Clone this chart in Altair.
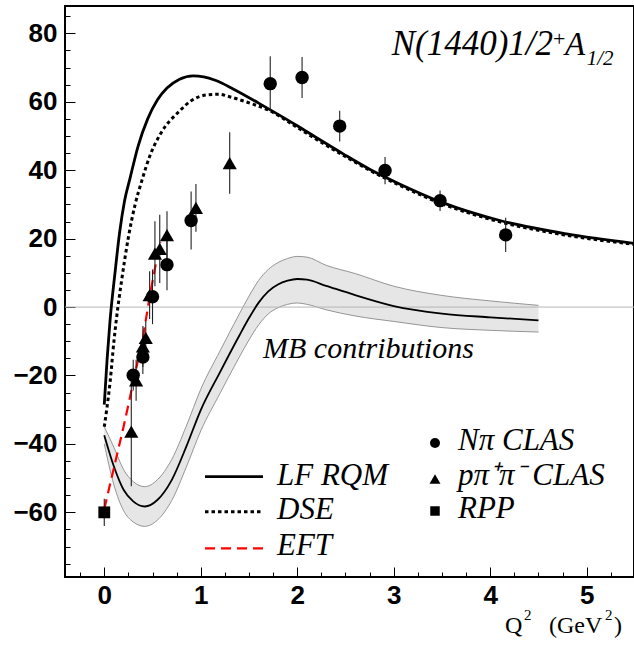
import altair as alt
import pandas as pd

# ---------------- data ----------------
# LF RQM (solid)
lf_x = [0.0, 0.03, 0.06, 0.11, 0.16, 0.21, 0.27, 0.35, 0.45, 0.55, 0.65, 0.78, 0.92, 1.03, 1.15,
        1.34, 1.68, 2.0, 2.2, 2.48, 2.75, 3.06, 3.5, 4.1, 4.79, 5.5]
lf_y = [-28.5, -15.0, -3.9, 9.7, 22.0, 31.0, 38.0, 47.0, 55.0, 60.5, 64.0, 66.6, 67.6, 67.3, 66.3,
        63.7, 58.3, 53.0, 49.5, 44.7, 40.3, 36.0, 30.6, 25.3, 21.4, 18.6]
# DSE (dotted)
dse_x = [0.0, 0.025, 0.06, 0.1, 0.128, 0.18, 0.25, 0.32, 0.39, 0.47, 0.58, 0.78, 0.9, 1.06, 1.2,
         1.27, 1.54, 1.7, 2.0, 2.2, 2.48, 2.75, 3.06, 3.5, 4.1, 4.79, 5.5]
dse_y = [-35.0, -30.0, -22.0, -10.0, -3.0, 7.8, 20.4, 30.0, 37.0, 44.0, 50.5, 57.3, 60.3, 62.0, 62.2,
         61.7, 59.3, 57.6, 52.5, 49.0, 44.3, 40.0, 35.6, 30.2, 24.9, 21.0, 18.3]
# EFT (red dashed)
eft_x = [0.0, 0.1, 0.2, 0.3, 0.4, 0.47, 0.53, 0.58]
eft_y = [-59.0, -47.0, -35.0, -22.0, -9.0, 3.0, 12.0, 19.0]
# MB contributions: central line and band
mb_x = [0.0, 0.1, 0.2, 0.3, 0.42, 0.55, 0.7, 0.85, 1.0, 1.2, 1.4, 1.5, 1.6, 1.7, 1.8, 1.9, 2.0,
        2.1, 2.3, 2.6, 3.0, 3.5, 4.0, 4.5]
mb_c = [-37.5, -46.6, -53.4, -56.8, -58.3, -56.4, -50.5, -40.8, -30.1, -19.0, -8.3, -3.2, 1.3,
        4.6, 6.6, 7.7, 8.2, 8.0, 6.2, 3.5, 0.3, -1.9, -3.0, -3.9]
mb_hi = [-35.0, -41.0, -47.5, -51.0, -52.5, -50.5, -44.5, -34.8, -24.0, -12.8, -2.0, 3.2, 7.8,
         11.0, 13.0, 14.2, 14.8, 14.6, 12.2, 9.8, 6.1, 3.4, 1.8, 0.5]
mb_lo = [-40.0, -52.0, -59.5, -62.8, -64.1, -62.3, -56.5, -46.8, -36.2, -25.2, -14.6, -9.6, -5.2,
         -2.0, -0.2, 0.8, 1.2, 0.8, -0.8, -2.6, -4.2, -6.0, -6.8, -7.3]
# N pi CLAS (circles)
npi_x = [0.30, 0.40, 0.50, 0.65, 0.90, 1.72, 2.05, 2.44, 2.91, 3.48, 4.16]
npi_y = [-19.9, -14.6, 3.0, 12.4, 25.3, 65.3, 67.1, 52.9, 39.9, 31.1, 21.1]
npi_e = [4.5, 5.0, 8.0, 7.5, 8.5, 8.0, 6.0, 4.5, 4.0, 3.0, 5.0]
# p pi+ pi- CLAS (triangles)
ppp_x = [0.28, 0.33, 0.40, 0.43, 0.47, 0.525, 0.575, 0.65, 0.95, 1.30]
ppp_y = [-36.4, -21.4, -11.5, -9.0, 3.5, 15.6, 17.0, 21.0, 29.0, 42.1]
ppp_e = [16.0, 6.0, 6.0, 5.0, 7.0, 9.5, 10.0, 7.0, 7.0, 9.0]
# RPP (square)
rpp_x = [0.0]
rpp_y = [-60.0]
rpp_e = [4.0]

x_major = [0, 1, 2, 3, 4, 5]
x_minor = [-0.25, 0.25, 0.5, 0.75, 1.25, 1.5, 1.75, 2.25, 2.5, 2.75, 3.25, 3.5, 3.75,
           4.25, 4.5, 4.75, 5.25]
y_major = [-60, -40, -20, 0, 20, 40, 60, 80]
y_minor = [-75, -70, -65, -55, -50, -45, -35, -30, -25, -15, -10, -5, 5, 10, 15, 25, 30, 35,
           45, 50, 55, 65, 70, 75, 85]

XDOM = [-0.407, 5.49]
YDOM = [-78.9, 88.0]
W, H = 569, 571

SERIF = "Liberation Serif"
SANS = "Liberation Sans"

xs = alt.Scale(domain=XDOM, nice=False, zero=False)
ys = alt.Scale(domain=YDOM, nice=False, zero=False)


def X(field, axis=None):
    return alt.X(field, type="quantitative", scale=xs, axis=axis)


def Y(field, axis=None):
    return alt.Y(field, type="quantitative", scale=ys, axis=axis)


lf_df = pd.DataFrame({"x": lf_x, "y": lf_y})
dse_df = pd.DataFrame({"x": dse_x, "y": dse_y})
eft_df = pd.DataFrame({"x": eft_x, "y": eft_y})
mb_df = pd.DataFrame({"x": mb_x, "c": mb_c, "hi": mb_hi, "lo": mb_lo})


def pts(xv, yv, ev):
    d = pd.DataFrame({"x": xv, "y": yv, "e": ev})
    d["y1"] = d["y"] - d["e"]
    d["y2"] = d["y"] + d["e"]
    return d


npi_df = pts(npi_x, npi_y, npi_e)
ppp_df = pts(ppp_x, ppp_y, ppp_e)
rpp_df = pts(rpp_x, rpp_y, rpp_e)

label_style = dict(labelFont=SANS, labelFontWeight="bold", labelFontSize=26, labelColor="black",
                   domain=False, grid=False, title=None, tickColor="black", tickWidth=1)

ax_x_major = alt.Axis(orient="bottom", values=x_major, tickSize=10, offset=-10, labelPadding=5,
                      format="d", **label_style)
ax_x_minor = alt.Axis(orient="bottom", values=x_minor, tickSize=5, offset=-5, labels=False,
                      domain=False, grid=False, title=None, tickColor="black", tickWidth=1)
ax_y_major = alt.Axis(orient="left", values=y_major, tickSize=10, offset=-10, labelPadding=8,
                      format="d", **label_style)
ax_y_minor = alt.Axis(orient="left", values=y_minor, tickSize=5, offset=-5, labels=False,
                      domain=False, grid=False, title=None, tickColor="black", tickWidth=1)

# band
band = alt.Chart(mb_df).mark_area(color="#e6e6e6", clip=True, interpolate="monotone").encode(
    x=X("x", ax_x_major), y=Y("lo", ax_y_major), y2="hi")
band_hi = alt.Chart(mb_df).mark_line(color="#8a8a8a", strokeWidth=0.9, clip=True,
                                     interpolate="monotone").encode(
    x=X("x", ax_x_minor), y=Y("hi", ax_y_minor))
band_lo = alt.Chart(mb_df).mark_line(color="#8a8a8a", strokeWidth=0.9, clip=True,
                                     interpolate="monotone").encode(x=X("x"), y=Y("lo"))
zero = alt.Chart(pd.DataFrame({"y": [0]})).mark_rule(color="#b5b5b5", strokeWidth=1).encode(
    y=Y("y"))
band_c = alt.Chart(mb_df).mark_line(color="black", strokeWidth=1.8, clip=True,
                                    interpolate="monotone").encode(x=X("x"), y=Y("c"))

eft = alt.Chart(eft_df).mark_line(color="#ff0000", strokeWidth=2.2, strokeDash=[10, 6],
                                  clip=True).encode(x=X("x"), y=Y("y"))
lf = alt.Chart(lf_df).mark_line(color="black", strokeWidth=2.8, clip=True,
                                interpolate="monotone").encode(x=X("x"), y=Y("y"))
dse = alt.Chart(dse_df).mark_line(color="black", strokeWidth=3, strokeDash=[3.5, 3],
                                  clip=True, interpolate="monotone").encode(x=X("x"), y=Y("y"))


def errs(df):
    return alt.Chart(df).mark_rule(color="#222222", strokeWidth=1.1).encode(
        x=X("x"), y=Y("y1"), y2="y2")


def marks(df, shape, size):
    return alt.Chart(df).mark_point(shape=shape, filled=True, size=size, color="black",
                                    opacity=1, strokeWidth=0).encode(x=X("x"), y=Y("y"))


def txt(s, x, y, size, style="italic", font=SERIF, align="left", weight="normal"):
    return alt.Chart(pd.DataFrame({"t": [s]})).mark_text(
        align=align, baseline="alphabetic", font=font, fontSize=size, fontStyle=style,
        fontWeight=weight, color="black").encode(text="t:N", x=alt.value(x), y=alt.value(y))


def legline(y, color, width, dash=None):
    kw = dict(color=color, strokeWidth=width)
    if dash:
        kw["strokeDash"] = dash
    return alt.Chart(pd.DataFrame({"a": [0]})).mark_rule(**kw).encode(
        x=alt.value(140), x2=alt.value(198), y=alt.value(y))


def legsym(shape, x, y, size):
    return alt.Chart(pd.DataFrame({"a": [0]})).mark_point(
        shape=shape, filled=True, size=size, color="black", opacity=1, strokeWidth=0).encode(
        x=alt.value(x), y=alt.value(y))


layers = [
    band, band_hi, band_lo, zero, band_c, eft, lf, dse,
    errs(npi_df), errs(ppp_df), errs(rpp_df),
    marks(npi_df, "circle", 180), marks(ppp_df, "triangle-up", 200), marks(rpp_df, "square", 140),
    # title
    txt("N(1440)1/2", 326.7, 49, 35),
    txt("+", 488, 40, 22, style="normal"),
    txt("A", 500, 49, 33),
    txt("1/2", 521.7, 59, 21),
    txt("MB contributions", 198, 352, 30),
    # legend: lines
    legline(470.7, "black", 2.8),
    legline(505.7, "black", 3, [3.5, 3]),
    legline(542.3, "#ff0000", 2.2, [10, 6]),
    txt("LF RQM", 212, 479, 31),
    txt("DSE", 212, 513, 31),
    txt("EFT", 212, 549, 31),
    # legend: symbols
    legsym("circle", 370, 437, 100),
    legsym("triangle-up", 370, 473, 120),
    legsym("square", 370, 505, 90),
    txt("N\u03c0 CLAS", 393, 444, 31),
    txt("p\u03c0\u207a\u03c0\u207b CLAS", 393, 479, 31),
    txt("RPP", 393, 512, 31),
    # x-axis title
    txt("Q", 440, 627, 24, style="normal"),
    txt("2", 459, 614, 15, style="normal"),
    txt("(GeV", 484, 627, 24, style="normal"),
    txt("2", 540, 614, 15, style="normal"),
    txt(")", 549, 627, 24, style="normal"),
]

chart = alt.layer(*layers).resolve_axis(x="independent", y="independent").properties(
    width=W, height=H, autosize="none", background="white",
    padding={"left": 65, "top": 6, "right": 0, "bottom": 70},
).configure_view(stroke="black", strokeWidth=2)

chart.save("out.html", embed_options={"renderer": "svg", "actions": False})
